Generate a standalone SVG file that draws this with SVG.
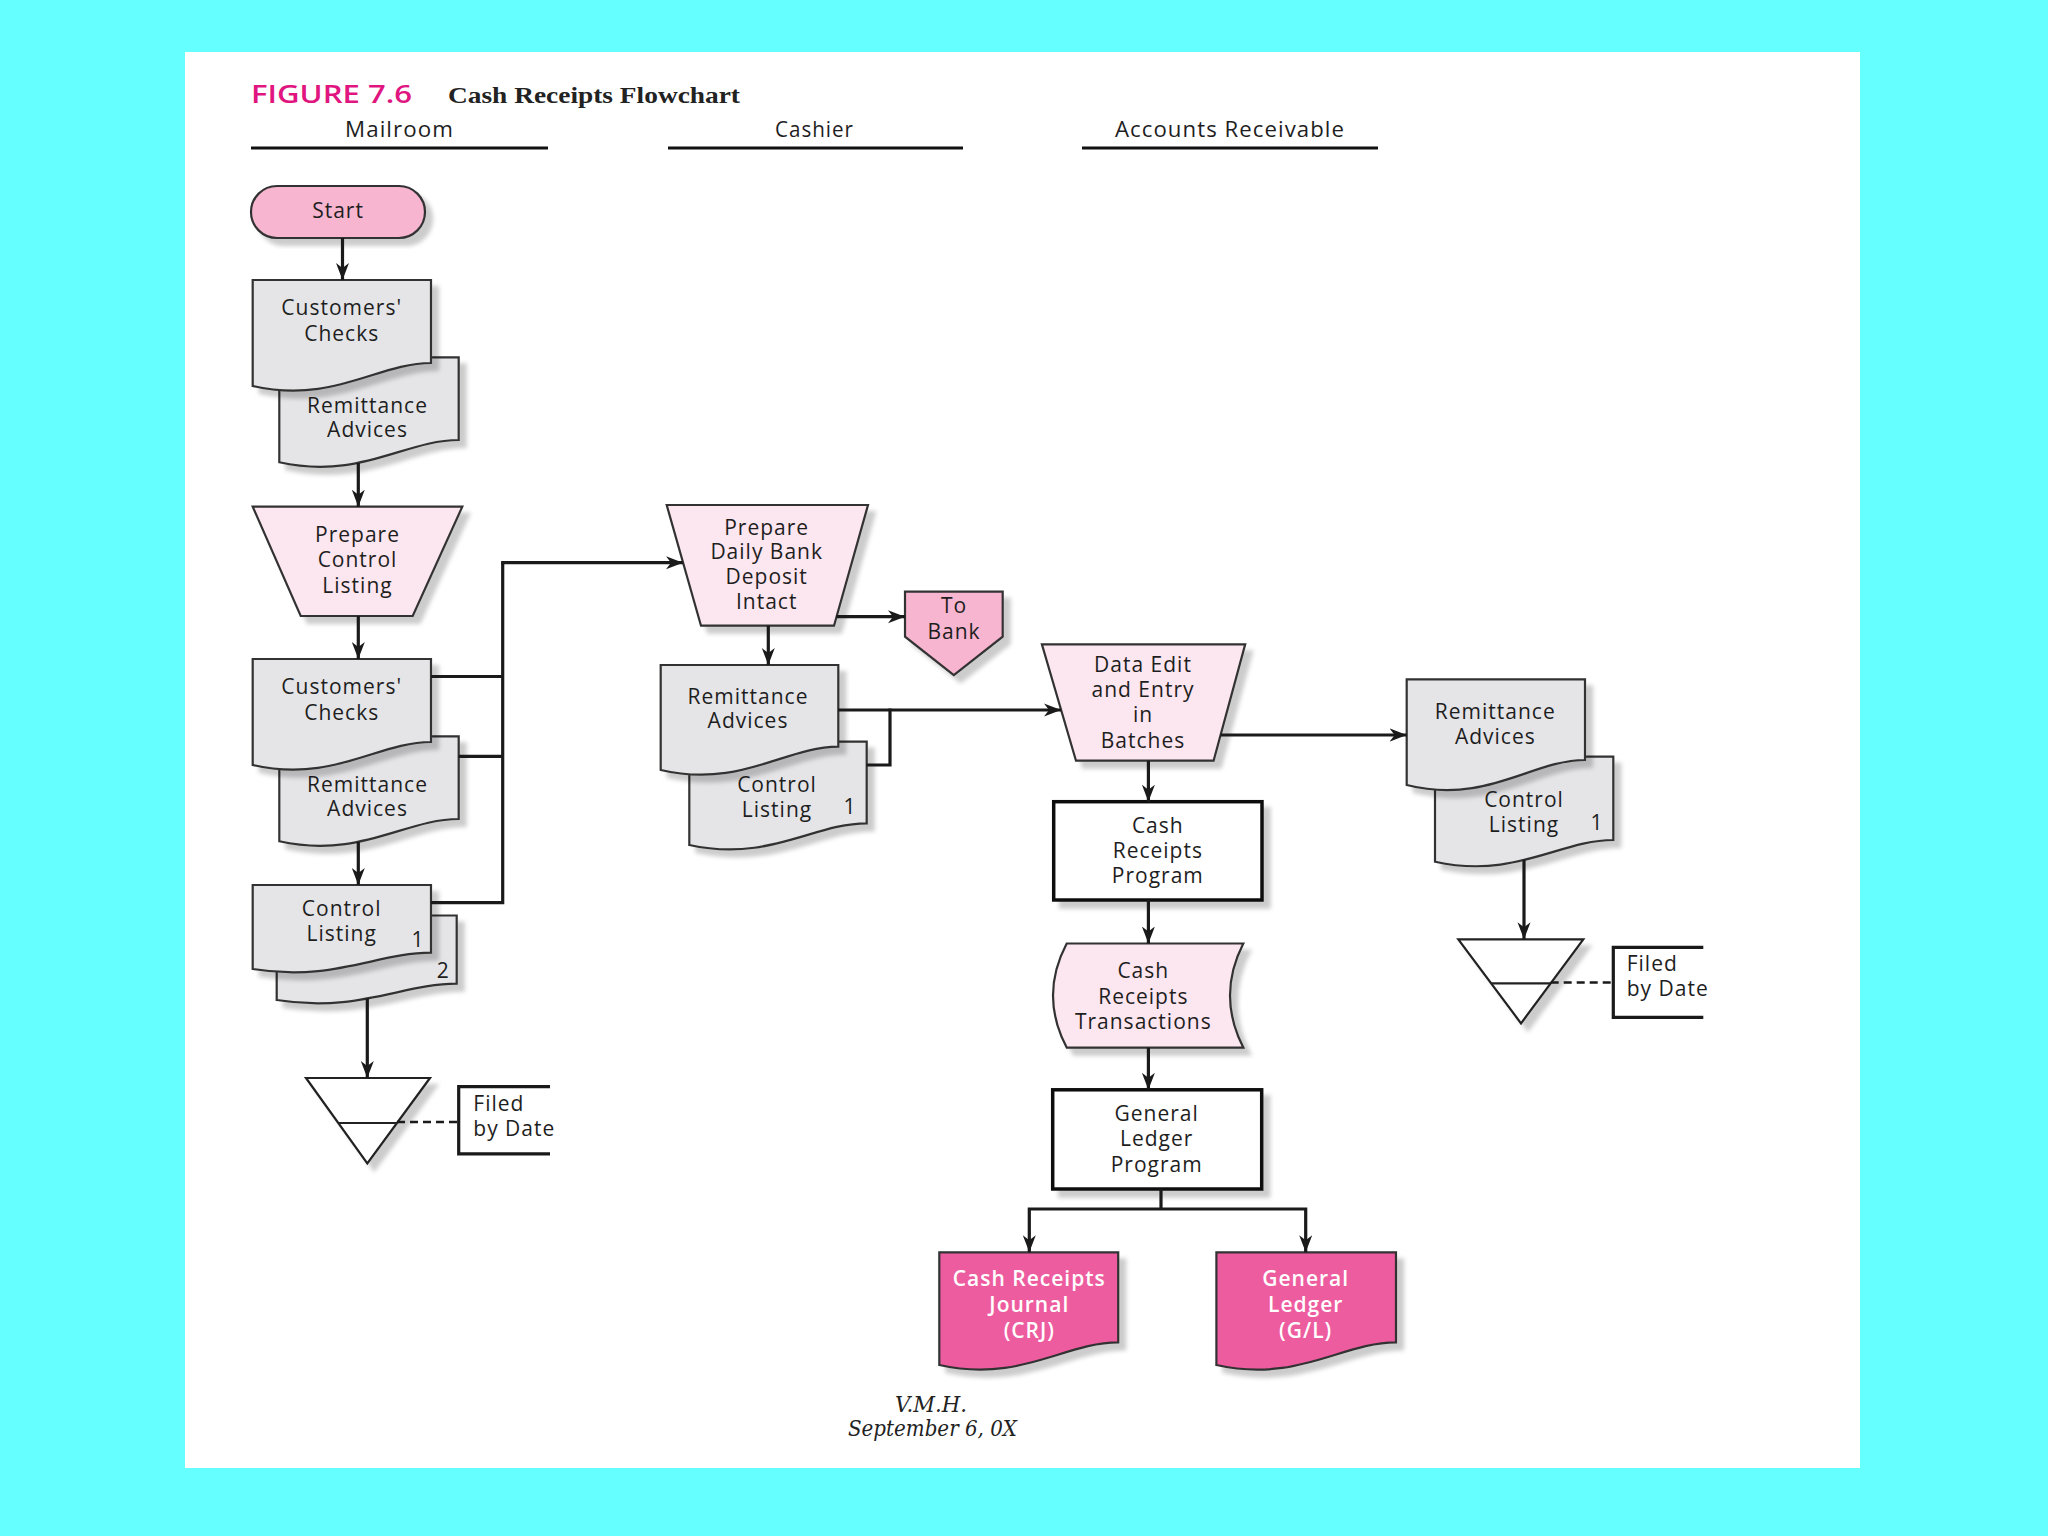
<svg xmlns="http://www.w3.org/2000/svg" width="2048" height="1536" viewBox="0 0 2048 1536">
<defs>
  <filter id="sh" x="-10%" y="-10%" width="130%" height="130%">
    <feDropShadow dx="7" dy="7" stdDeviation="2" flood-color="#000" flood-opacity="0.2"/>
  </filter>
  <marker id="ah" markerUnits="userSpaceOnUse" markerWidth="18" markerHeight="14" refX="17" refY="7" orient="auto">
    <path d="M0,0.5 L17,7 L0,13.5 L5,7 Z" fill="#1a1a1a"/>
  </marker>
  <style>
    .t{font-family:"Open Sans","Noto Sans",sans-serif;font-size:21px;fill:#1e1e1e;text-anchor:middle;letter-spacing:1px}
    .w{fill:#fff;font-weight:600}
    .doc{fill:#e5e5e8;stroke:#333;stroke-width:2.2;filter:url(#sh)}
    .mag{fill:#ee5ba0;stroke:#333;stroke-width:2.2;filter:url(#sh)}
    .man{fill:#fce6ef;stroke:#333;stroke-width:2.2;filter:url(#sh)}
    .pink{fill:#f7b5d0;stroke:#333;stroke-width:2.2;filter:url(#sh)}
    .box{fill:#fff;stroke:#111;stroke-width:3.5;filter:url(#sh)}
    .tri{fill:#fff;stroke:#222;stroke-width:2.2;filter:url(#sh)}
    .ln{fill:none;stroke:#1a1a1a;stroke-width:3.2}
    .arr{fill:none;stroke:#1a1a1a;stroke-width:3.2;marker-end:url(#ah)}
    .dash{fill:none;stroke:#1a1a1a;stroke-width:2.5;stroke-dasharray:8 5}
    .hdr{fill:none;stroke:#111;stroke-width:3}
  </style>
</defs>
<rect x="0" y="0" width="2048" height="1536" fill="#66ffff"/>
<rect x="185" y="52" width="1675" height="1416" fill="#fff"/>

<g id="title">
  <text x="251" y="103" font-family="'Open Sans',sans-serif" font-weight="600" font-size="26" fill="#e0157f" textLength="161" lengthAdjust="spacingAndGlyphs">FIGURE 7.6</text>
  <text x="448" y="103" font-family="'Liberation Serif',serif" font-weight="bold" font-size="24" fill="#222" textLength="292" lengthAdjust="spacingAndGlyphs">Cash Receipts Flowchart</text>
</g>

<g id="lanes">
  <text x="399.5" y="137" class="t" textLength="109" lengthAdjust="spacingAndGlyphs">Mailroom</text>
  <line x1="251" y1="148" x2="548" y2="148" class="hdr"/>
  <text x="814.5" y="137" class="t" textLength="79" lengthAdjust="spacingAndGlyphs">Cashier</text>
  <line x1="668" y1="148" x2="963" y2="148" class="hdr"/>
  <text x="1230" y="137" class="t" textLength="230" lengthAdjust="spacingAndGlyphs">Accounts Receivable</text>
  <line x1="1082" y1="148" x2="1378" y2="148" class="hdr"/>
</g>

<g id="start">
  <rect x="251" y="186" width="174" height="52" rx="26" class="pink"/>
  <text x="338" y="217.5" class="t">Start</text>
</g>

<g id="mail-checks-1">
  <path class="doc" d="M279.3,357.3 H458.7 V440 C404.9,440 360,480.1 279.3,462.3 Z"/>
  <path class="doc" d="M252.7,280 H431 V363 C377.5,363 332.9,404.4 252.7,386 Z"/>
  <text x="341.7" y="315" class="t">Customers'</text>
  <text x="341.7" y="341" class="t">Checks</text>
  <text x="367.5" y="412.7" class="t">Remittance</text>
  <text x="367.5" y="436.7" class="t">Advices</text>
</g>

<g id="prepare-control-listing">
  <path class="man" d="M252.7,506.7 H462.3 L412.7,616 H300.7 Z"/>
  <text x="357.5" y="541.7" class="t">Prepare</text>
  <text x="357.5" y="566.5" class="t">Control</text>
  <text x="357.5" y="592.7" class="t">Listing</text>
</g>

<g id="mail-checks-2">
  <path class="doc" d="M279.3,736.3 H458.7 V819 C404.9,819 360,859.1 279.3,841.3 Z"/>
  <path class="doc" d="M252.7,659 H431 V742 C377.5,742 332.9,783.4 252.7,765 Z"/>
  <text x="341.7" y="694" class="t">Customers'</text>
  <text x="341.7" y="720" class="t">Checks</text>
  <text x="367.5" y="791.7" class="t">Remittance</text>
  <text x="367.5" y="815.7" class="t">Advices</text>
</g>

<g id="mail-control-listing">
  <path class="doc" d="M276.7,915.5 H456.7 V983.7 C402.7,983.7 357.7,1013 276.7,1000 Z"/>
  <path class="doc" d="M252.7,885 H431 V952.7 C377.5,952.7 332.9,982 252.7,969 Z"/>
  <text x="341.7" y="915.5" class="t">Control</text>
  <text x="341.7" y="940.6" class="t">Listing</text>
  <text x="418" y="946.5" class="t">1</text>
  <text x="443.3" y="978" class="t">2</text>
</g>

<g id="mail-file">
  <path class="tri" d="M306,1078 H430 L367.3,1163.4 Z"/>
  <line x1="338.3" y1="1123" x2="397" y2="1123" stroke="#222" stroke-width="2.2"/>
  <path class="dash" d="M397,1122 H458.7"/>
  <path class="ln" d="M550,1086.6 H458.7 V1153.8 H550"/>
  <text x="473.3" y="1111" class="t" style="text-anchor:start">Filed</text>
  <text x="473.3" y="1136" class="t" style="text-anchor:start">by Date</text>
</g>

<g id="prepare-daily-deposit">
  <path class="man" d="M666.7,505 H868 L834,625.7 H701 Z"/>
  <text x="766.7" y="535" class="t">Prepare</text>
  <text x="766.7" y="559" class="t">Daily Bank</text>
  <text x="766.7" y="584" class="t">Deposit</text>
  <text x="766.7" y="609" class="t">Intact</text>
</g>

<g id="to-bank">
  <path class="pink" d="M905,591.7 H1002.7 V636.7 L953.8,675 L905,636.7 Z"/>
  <text x="954" y="613" class="t">To</text>
  <text x="954" y="638.5" class="t">Bank</text>
</g>

<g id="cashier-docs">
  <path class="doc" d="M689.3,741.7 H866.7 V823.3 C813.5,823.3 769.1,862.4 689.3,845 Z"/>
  <path class="doc" d="M660.7,665 H838.3 V746.7 C785,746.7 740.6,788.6 660.7,770 Z"/>
  <text x="748" y="704" class="t">Remittance</text>
  <text x="748" y="728.3" class="t">Advices</text>
  <text x="777" y="791.7" class="t">Control</text>
  <text x="777" y="816.7" class="t">Listing</text>
  <text x="850" y="814.3" class="t">1</text>
</g>

<g id="data-edit">
  <path class="man" d="M1041.9,644.3 H1245.2 L1213.6,760.7 H1076 Z"/>
  <text x="1143" y="671.7" class="t">Data Edit</text>
  <text x="1143" y="696.7" class="t">and Entry</text>
  <text x="1143" y="722.3" class="t">in</text>
  <text x="1143" y="748.3" class="t">Batches</text>
</g>

<g id="cash-receipts-program">
  <rect x="1053.7" y="801.7" width="208.3" height="98.3" class="box"/>
  <text x="1157.8" y="833.3" class="t">Cash</text>
  <text x="1157.8" y="858.3" class="t">Receipts</text>
  <text x="1157.8" y="883.3" class="t">Program</text>
</g>

<g id="cash-receipts-transactions">
  <path class="man" d="M1066.7,943.5 H1243.3 Q1216.7,995.5 1243.3,1047.6 H1066.7 Q1039.3,995.5 1066.7,943.5 Z"/>
  <text x="1143.3" y="978" class="t">Cash</text>
  <text x="1143.3" y="1003.5" class="t">Receipts</text>
  <text x="1143.3" y="1028.5" class="t">Transactions</text>
</g>

<g id="general-ledger-program">
  <rect x="1052.7" y="1089.8" width="209" height="99.2" class="box"/>
  <text x="1156.7" y="1120.5" class="t">General</text>
  <text x="1156.7" y="1146.4" class="t">Ledger</text>
  <text x="1156.7" y="1172.3" class="t">Program</text>
</g>

<g id="crj">
  <path class="mag" d="M939.3,1252.3 H1118.2 V1342.3 C1064.5,1342.3 1019.8,1383.2 939.3,1365 Z"/>
  <text x="1029.3" y="1285.7" class="t w">Cash Receipts</text>
  <text x="1029.3" y="1312.3" class="t w">Journal</text>
  <text x="1029.3" y="1337.7" class="t w">(CRJ)</text>
</g>

<g id="gl">
  <path class="mag" d="M1216.4,1252.3 H1396 V1342.3 C1342.1,1342.3 1297.2,1383.2 1216.4,1365 Z"/>
  <text x="1305.7" y="1285.7" class="t w">General</text>
  <text x="1305.7" y="1312.3" class="t w">Ledger</text>
  <text x="1305.7" y="1337.7" class="t w">(G/L)</text>
</g>

<g id="ar-docs">
  <path class="doc" d="M1435,756.7 H1613.3 V840 C1559.8,840 1515.2,879.4 1435,861.7 Z"/>
  <path class="doc" d="M1406.7,679.3 H1585 V760 C1531.5,760 1486.9,805 1406.7,785 Z"/>
  <text x="1495.3" y="718.5" class="t">Remittance</text>
  <text x="1495.3" y="744" class="t">Advices</text>
  <text x="1524" y="806.7" class="t">Control</text>
  <text x="1524" y="831.7" class="t">Listing</text>
  <text x="1597" y="830" class="t">1</text>
</g>

<g id="ar-file">
  <path class="tri" d="M1458.3,939.3 H1583.3 L1521,1023.3 Z"/>
  <line x1="1491.2" y1="983.3" x2="1550.7" y2="983.3" stroke="#222" stroke-width="2.2"/>
  <path class="dash" d="M1550.7,982.5 H1613.3"/>
  <path class="ln" d="M1703.3,947.3 H1613.3 V1017.3 H1703.3"/>
  <text x="1626.7" y="970.5" class="t" style="text-anchor:start">Filed</text>
  <text x="1626.7" y="996" class="t" style="text-anchor:start">by Date</text>
</g>

<g id="signature" font-family="'DejaVu Serif',serif" font-style="italic" fill="#222">
  <text x="895" y="1412" font-size="23" textLength="72" lengthAdjust="spacingAndGlyphs">V.M.H.</text>
  <text x="848" y="1436" font-size="23" textLength="169" lengthAdjust="spacingAndGlyphs">September 6, 0X</text>
</g>

<g id="connectors">
  <path class="arr" d="M342.5,238 V280"/>
  <path class="arr" d="M358.3,463 V506.7"/>
  <path class="arr" d="M358.3,616 V659"/>
  <path class="arr" d="M358.3,842 V885"/>
  <path class="arr" d="M367.3,998.5 V1078"/>
  <path class="ln" d="M431,676.5 H502.7"/>
  <path class="ln" d="M458.7,756.3 H502.7"/>
  <path class="ln" d="M431,902.7 H502.7 V562.7"/>
  <path class="arr" d="M501.1,562.7 H683"/>
  <path class="arr" d="M836.5,616.7 H905"/>
  <path class="arr" d="M768.3,625.7 V665"/>
  <path class="arr" d="M838.3,710 H1061"/>
  <path class="ln" d="M866.7,765 H890 V708.4"/>
  <path class="arr" d="M1220.6,735 H1406.7"/>
  <path class="arr" d="M1148.4,760.7 V801.7"/>
  <path class="arr" d="M1148.4,900 V943.5"/>
  <path class="arr" d="M1148.4,1047.6 V1089.8"/>
  <path class="ln" d="M1161,1189 V1209"/>
  <path class="arr" d="M1161,1209 H1029.3 V1252.3"/>
  <path class="arr" d="M1161,1209 H1305.7 V1252.3"/>
  <path class="arr" d="M1524,859.8 V939.3"/>
</g>
</svg>
